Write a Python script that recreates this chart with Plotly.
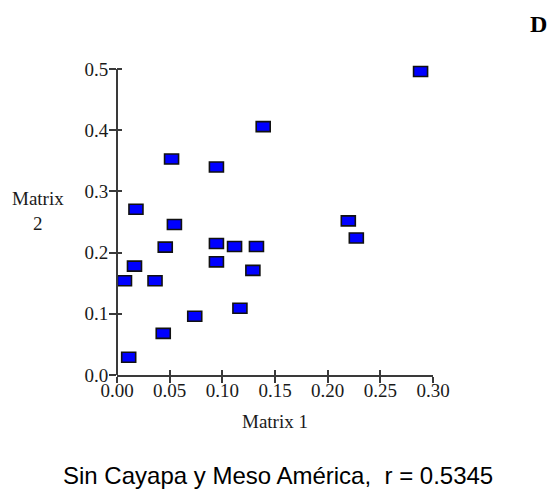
import plotly.graph_objects as go

# Pairwise distances: Matrix 1 (x) against Matrix 2 (y)
matrix1 = [0.2882, 0.1388, 0.0518, 0.0944, 0.0180, 0.0545, 0.2196, 0.2272,
           0.0458, 0.0944, 0.1116, 0.1324, 0.0944, 0.1290, 0.0166, 0.0071,
           0.0361, 0.0738, 0.1167, 0.0439, 0.0111]
matrix2 = [0.496, 0.406, 0.353, 0.340, 0.271, 0.246, 0.252, 0.224,
           0.209, 0.215, 0.210, 0.210, 0.185, 0.171, 0.178, 0.154,
           0.154, 0.096, 0.109, 0.068, 0.029]

x_ticks = [0.0, 0.05, 0.10, 0.15, 0.20, 0.25, 0.30]
x_tick_text = ["0.00", "0.05", "0.10", "0.15", "0.20", "0.25", "0.30"]
y_ticks = [0.0, 0.1, 0.2, 0.3, 0.4, 0.5]
y_tick_text = ["0.0", "0.1", "0.2", "0.3", "0.4", "0.5"]

caption = "Sin Cayapa y Meso América,  r = 0.5345"
panel = "D"

# Figure geometry
W, H = 556, 498
ML, MR, MT, MB = 117.3, 122.7, 63.2, 123.0
x_range = [0.0, 0.30]
y_range = [0.0, 0.51]       # a little headroom so the top box is not clipped
plot_w = W - ML - MR
plot_h = H - MT - MB

# Box marker size in pixels, converted to data units
box_w_px, box_h_px = 14.0, 10.0
hw = box_w_px / 2 * (x_range[1] - x_range[0]) / plot_w
hh = box_h_px / 2 * (y_range[1] - y_range[0]) / plot_h

axis_col = "#3a3a3a"
text_col = "#1a1a1a"
serif = "Liberation Serif, Times New Roman, serif"
fsize = 19

fig = go.Figure()

# Invisible points carry the data for hover
fig.add_trace(go.Scatter(x=matrix1, y=matrix2, mode="markers",
                         marker=dict(size=12, opacity=0), showlegend=False,
                         hovertemplate="%{x:.3f}, %{y:.3f}<extra></extra>"))
# Empty trace on the overlay axes that carry the inner tick halves
fig.add_trace(go.Scatter(x=[], y=[], xaxis="x2", yaxis="y2", showlegend=False))

shapes = []
for xv, yv in zip(matrix1, matrix2):
    shapes.append(dict(type="rect", xref="x", yref="y",
                       x0=xv - hw, x1=xv + hw, y0=yv - hh, y1=yv + hh,
                       fillcolor="#0000ff",
                       line=dict(color="#111111", width=1.6), layer="above"))
# Vertical axis line from 0 up to the top tick
shapes.append(dict(type="line", xref="paper", yref="y domain",
                   x0=0, x1=0, y0=0,
                   y1=(y_ticks[-1] - y_range[0]) / (y_range[1] - y_range[0]),
                   line=dict(color=axis_col, width=2)))

common_tick = dict(showgrid=False, zeroline=False, tickcolor=axis_col,
                   tickwidth=1.5)

fig.update_layout(
    width=W, height=H,
    margin=dict(l=ML, r=MR, t=MT, b=MB, pad=0),
    paper_bgcolor="white", plot_bgcolor="white",
    showlegend=False,
    shapes=shapes,
    xaxis=dict(range=x_range, tickvals=x_ticks, ticktext=x_tick_text,
               ticks="outside", ticklen=6, showline=True, linecolor=axis_col,
               linewidth=2, ticklabelstandoff=-9,
               tickfont=dict(family=serif, size=fsize, color=text_col),
               fixedrange=True, **common_tick),
    yaxis=dict(range=y_range, tickvals=y_ticks, ticktext=y_tick_text,
               ticks="outside", ticklen=7, showline=False,
               ticklabelstandoff=-3,
               tickfont=dict(family=serif, size=fsize, color=text_col),
               fixedrange=True, **common_tick),
    xaxis2=dict(range=x_range, tickvals=x_ticks, overlaying="x", anchor="y",
                side="bottom", ticks="inside", ticklen=5, showticklabels=False,
                showline=False, **common_tick),
    yaxis2=dict(range=y_range, tickvals=y_ticks, overlaying="y", anchor="x",
                side="left", ticks="inside", ticklen=5, showticklabels=False,
                showline=False, **common_tick),
    annotations=[
        dict(text="Matrix<br>2", xref="paper", yref="y", x=-0.251, y=0.2674,
             showarrow=False, xanchor="center", yanchor="middle", align="center",
             font=dict(family=serif, size=fsize, color=text_col)),
        dict(text="Matrix 1", xref="x", yref="paper", x=0.15, y=-0.1475,
             showarrow=False, xanchor="center", yanchor="middle",
             font=dict(family=serif, size=fsize, color=text_col)),
        dict(text=caption, xref="paper", yref="paper", x=0.5085, y=-0.3207,
             showarrow=False, xanchor="center", yanchor="middle",
             font=dict(family="Liberation Sans, Arial, sans-serif", size=24,
                       color="#000000")),
        dict(text="<b>" + panel + "</b>", xref="paper", yref="paper",
             x=1.3335, y=1.1257, showarrow=False, xanchor="center",
             yanchor="middle",
             font=dict(family=serif, size=24, color="#000000")),
    ],
)

fig.write_html("out.html")
